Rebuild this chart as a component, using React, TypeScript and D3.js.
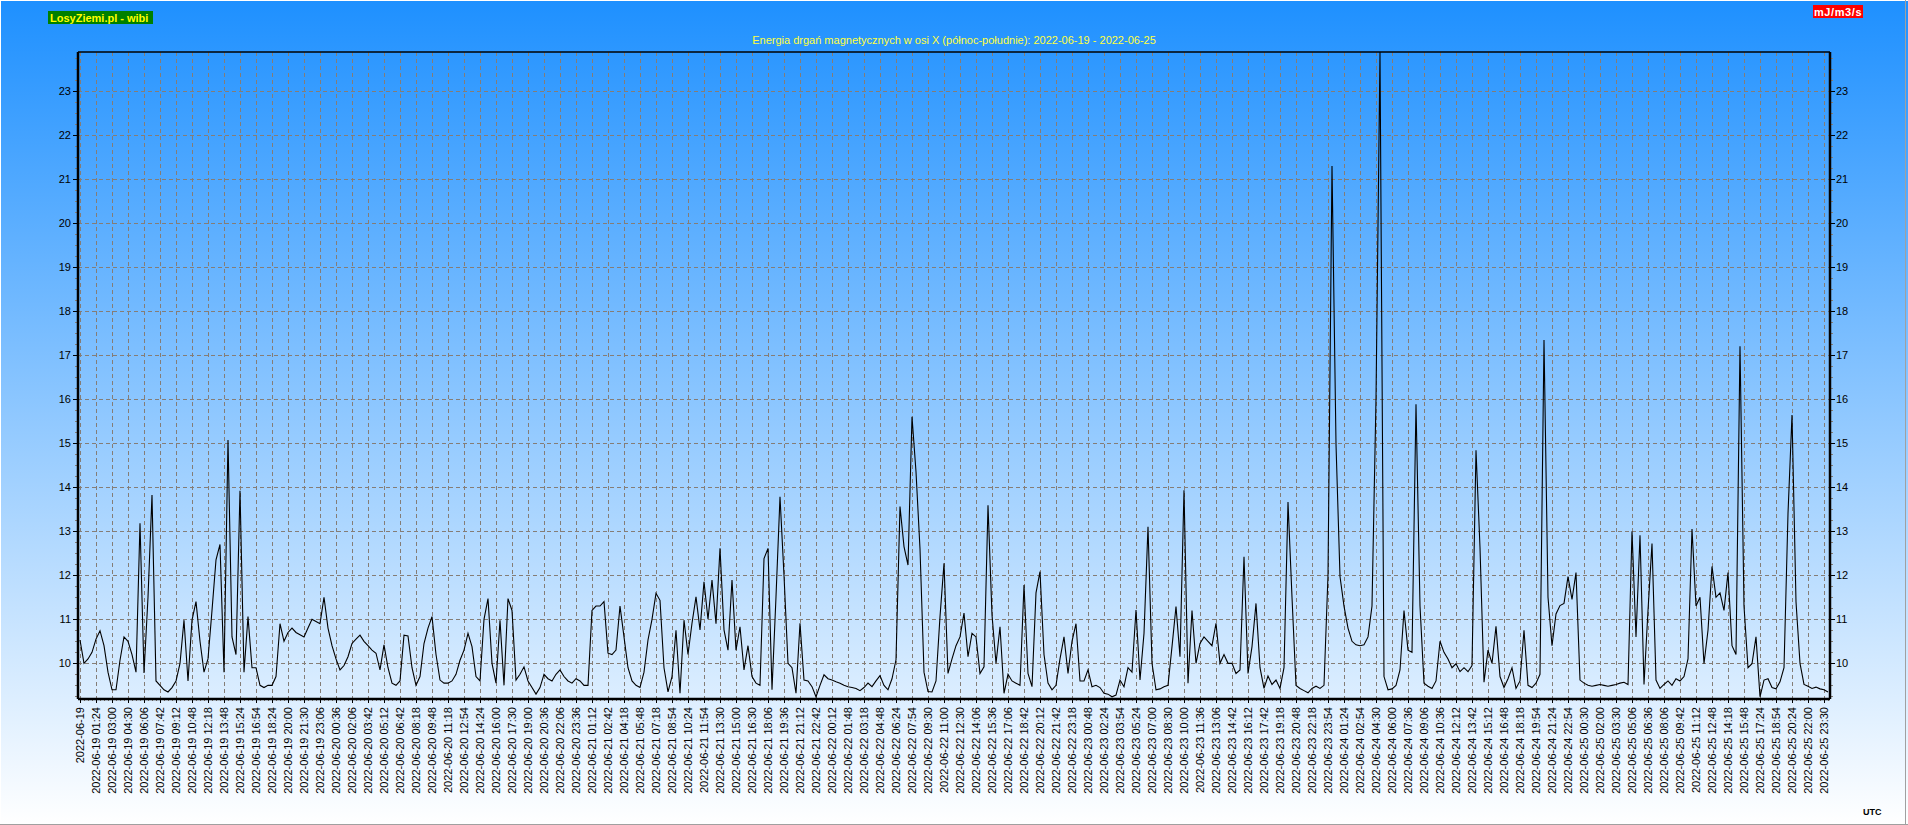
import React from 'react';
import * as d3 from 'd3';

const WIDTH = 1908;
const HEIGHT = 825;

// Energy values (mJ/m3/s), 4 samples per x-axis label slot
const SAMPLES_PER_SLOT = 4;
const seriesJun19 = [
  10.53, 10.0, 10.1, 10.25, 10.55, 10.74, 10.4, 9.8, 9.4, 9.4,
  10.07, 10.6, 10.5, 10.2, 9.8, 13.18, 9.78, 11.5, 13.82, 9.6,
  9.5, 9.4, 9.35, 9.45, 9.6, 10.0, 10.98, 9.6, 10.98, 11.4,
  10.5, 9.8, 10.1, 11.2, 12.35, 12.7, 9.8, 15.07, 10.6, 10.2,
  13.92, 9.8, 11.06, 9.9, 9.9, 9.5, 9.45, 9.5, 9.5, 9.7,
  10.9, 10.5, 10.7, 10.8, 10.7, 10.65, 10.6, 10.8, 11.0, 10.95,
  10.9, 11.5, 10.8, 10.4,
];
const seriesJun20 = [
  10.1, 9.85, 9.95, 10.15, 10.45, 10.55, 10.64, 10.5, 10.4, 10.3,
  10.23, 9.85, 10.42, 9.9, 9.55, 9.5, 9.6, 10.64, 10.62, 9.9,
  9.5, 9.7, 10.45, 10.8, 11.06, 10.2, 9.62, 9.55, 9.55, 9.6,
  9.75, 10.07, 10.3, 10.68, 10.38, 9.7, 9.6, 11.0, 11.47, 10.0,
  9.55, 10.98, 9.5, 11.47, 11.2, 9.62, 9.75, 9.92, 9.6, 9.45,
  9.3, 9.45, 9.75, 9.65, 9.6, 9.75, 9.85, 9.7, 9.6, 9.55,
  9.65, 9.6, 9.5, 9.5,
];
const seriesJun21 = [
  11.2, 11.3, 11.3, 11.4, 10.23, 10.2, 10.3, 11.3, 10.6, 9.9,
  9.6, 9.5, 9.45, 9.8, 10.53, 11.0, 11.59, 11.43, 9.9, 9.35,
  9.7, 10.75, 9.32, 10.98, 10.2, 10.91, 11.51, 10.76, 11.85, 11.0,
  11.89, 10.9, 12.61, 10.76, 10.3, 11.89, 10.3, 10.83, 9.85, 10.4,
  9.7, 9.55, 9.5, 12.38, 12.61, 9.4, 11.51, 13.78, 12.0, 10.0,
  9.9, 9.32, 10.91, 9.62, 9.6, 9.47, 9.24, 9.5, 9.74, 9.65,
];
const seriesJun22 = [
  9.62, 9.58, 9.55, 9.5, 9.47, 9.45, 9.43, 9.38, 9.45, 9.55,
  9.47, 9.6, 9.72, 9.5, 9.4, 9.65, 10.08, 13.56, 12.65, 12.23,
  15.6, 14.35, 12.6, 9.8, 9.36, 9.35, 9.6, 11.06, 12.27, 9.77,
  10.1, 10.4, 10.6, 11.14, 10.15, 10.68, 10.6, 9.77, 9.92, 13.59,
  11.1, 10.0, 10.83, 9.32, 9.75, 9.6, 9.55, 9.5, 11.78, 9.77,
  9.47, 11.6, 12.08, 10.2, 9.55, 9.4, 9.5, 10.1, 10.6, 9.77,
  10.5, 10.9, 9.6, 9.6,
];
const seriesJun23 = [
  9.85, 9.47, 9.5, 9.45, 9.32, 9.3, 9.24, 9.28, 9.62, 9.47,
  9.9, 9.8, 11.21, 9.62, 10.68, 13.1, 10.0, 9.4, 9.42, 9.47,
  9.5, 10.38, 11.29, 10.15, 13.93, 9.55, 11.2, 10.0, 10.45, 10.6,
  10.5, 10.4, 10.91, 10.0, 10.2, 10.0, 10.0, 9.77, 9.85, 12.42,
  9.77, 10.38, 11.36, 9.9, 9.43, 9.71, 9.52, 9.62, 9.43, 9.9,
  13.66, 11.5, 9.5, 9.43, 9.38, 9.33, 9.43, 9.48, 9.43, 9.5,
  12.0, 21.29, 14.98, 11.97,
];
const seriesJun24 = [
  11.3, 10.8, 10.5, 10.42, 10.4, 10.42, 10.6, 11.3, 16.0, 23.88,
  9.7, 9.4, 9.42, 9.5, 9.85, 11.2, 10.3, 10.25, 15.88, 11.3,
  9.55, 9.48, 9.43, 9.6, 10.5, 10.25, 10.1, 9.9, 9.99, 9.81,
  9.9, 9.81, 9.95, 14.84, 12.63, 9.57, 10.3, 10.0, 10.84, 9.7,
  9.45, 9.65, 9.9, 9.43, 9.6, 10.75, 9.5, 9.45, 9.55, 9.75,
  17.34, 11.5, 10.4, 11.12, 11.31, 11.36, 11.97, 11.45, 12.06, 9.62,
];
const seriesJun25 = [
  9.55, 9.5, 9.48, 9.5, 9.52, 9.5, 9.48, 9.5, 9.52, 9.55,
  9.57, 9.52, 13.0, 10.6, 12.91, 9.52, 11.2, 12.72, 9.62, 9.43,
  9.52, 9.6, 9.5, 9.65, 9.6, 9.7, 10.1, 13.05, 11.3, 11.5,
  9.99, 10.75, 12.2, 11.5, 11.6, 11.2, 12.06, 10.4, 10.2, 17.2,
  11.3, 9.9, 9.99, 10.6, 9.24, 9.62, 9.65, 9.45, 9.42, 9.58,
  9.9, 13.4, 15.64, 11.4, 10.0, 9.52, 9.48, 9.43, 9.46, 9.42,
  9.4, 9.35,
];

// X tick labels (date + time), one per slot
const tickDays = ['2022-06-19', '2022-06-20', '2022-06-21', '2022-06-22', '2022-06-23', '2022-06-24', '2022-06-25'];
const tickTimesJun19 = ['', '01:24', '03:00', '04:30', '06:06', '07:42', '09:12', '10:48', '12:18', '13:48', '15:24', '16:54', '18:24', '20:00', '21:30', '23:06'];
const tickTimesJun20 = ['00:36', '02:06', '03:42', '05:12', '06:42', '08:18', '09:48', '11:18', '12:54', '14:24', '16:00', '17:30', '19:00', '20:36', '22:06', '23:36'];
const tickTimesJun21 = ['01:12', '02:42', '04:18', '05:48', '07:18', '08:54', '10:24', '11:54', '13:30', '15:00', '16:30', '18:06', '19:36', '21:12', '22:42'];
const tickTimesJun22 = ['00:12', '01:48', '03:18', '04:48', '06:24', '07:54', '09:30', '11:00', '12:30', '14:06', '15:36', '17:06', '18:42', '20:12', '21:42', '23:18'];
const tickTimesJun23 = ['00:48', '02:24', '03:54', '05:24', '07:00', '08:30', '10:00', '11:36', '13:06', '14:42', '16:12', '17:42', '19:18', '20:48', '22:18', '23:54'];
const tickTimesJun24 = ['01:24', '02:54', '04:30', '06:00', '07:36', '09:06', '10:36', '12:12', '13:42', '15:12', '16:48', '18:18', '19:54', '21:24', '22:54'];
const tickTimesJun25 = ['00:30', '02:00', '03:30', '05:06', '06:36', '08:06', '09:42', '11:12', '12:48', '14:18', '15:48', '17:24', '18:54', '20:24', '22:00', '23:30'];

const yTickValues = [10, 11, 12, 13, 14, 15, 16, 17, 18, 19, 20, 21, 22, 23];
const Y_MIN = 9.19;
const Y_MAX = 23.88;

const TITLE = 'Energia drgań magnetycznych w osi X (północ-południe): 2022-06-19 - 2022-06-25';
const BRAND = 'LosyZiemi.pl - wibi';
const UNIT = 'mJ/m3/s';

const FONT = "'Liberation Sans', Arial, sans-serif";

export default function App() {
  const values = [
    ...seriesJun19, ...seriesJun20, ...seriesJun21, ...seriesJun22,
    ...seriesJun23, ...seriesJun24, ...seriesJun25,
  ];
  const dayTimes = [tickTimesJun19, tickTimesJun20, tickTimesJun21, tickTimesJun22, tickTimesJun23, tickTimesJun24, tickTimesJun25];
  const xLabels: string[] = [];
  dayTimes.forEach((times, di) => {
    times.forEach((t) => xLabels.push(t ? `${tickDays[di]} ${t}` : tickDays[di]));
  });

  const left = 78, right = 1830, top = 52, bottom = 699;
  const nSlots = xLabels.length;
  const x = d3.scaleLinear().domain([-0.125, nSlots - 0.625]).range([left, right]);
  const y = d3.scaleLinear().domain([Y_MIN, Y_MAX]).range([bottom, top]);

  const line = d3.line<number>()
    .x((_, i) => x(i / SAMPLES_PER_SLOT))
    .y((d) => y(d));

  const minorY = d3.range(Math.ceil(Y_MIN * 4), Math.floor(Y_MAX * 4) + 1).map((v) => v / 4);
  const minorX = d3.range(0, nSlots * 4 + 1).map((v) => v / 4).filter((v) => x(v) <= right);

  const gridColor = '#857d76';

  return (
    <svg width={WIDTH} height={HEIGHT} style={{ position: 'absolute', left: 0, top: 0, display: 'block' }}>
      <defs>
        <linearGradient id="bg" x1="0" y1="0" x2="0" y2="1">
          <stop offset="0%" stopColor="#1e90ff" />
          <stop offset="100%" stopColor="#ffffff" />
        </linearGradient>
        <clipPath id="plotClip">
          <rect x={left} y={top} width={right - left} height={bottom - top} />
        </clipPath>
      </defs>
      <rect x={0} y={0} width={WIDTH} height={HEIGHT} fill="url(#bg)" />
      <line x1={0} y1={0.5} x2={WIDTH} y2={0.5} stroke="#ffffff" />
      <line x1={0.5} y1={0} x2={0.5} y2={HEIGHT} stroke="#ffffff" />
      <line x1={1905.5} y1={0} x2={1905.5} y2={HEIGHT} stroke="#a0a0a0" />
      <line x1={0} y1={824.5} x2={WIDTH} y2={824.5} stroke="#a0a0a0" />

      {/* grid */}
      <g stroke={gridColor} strokeWidth={1} strokeDasharray="4,3" shapeRendering="crispEdges">
        {yTickValues.map((v) => (
          <line key={'gy' + v} x1={left} x2={right} y1={Math.round(y(v)) + 0.5} y2={Math.round(y(v)) + 0.5} />
        ))}
        {xLabels.map((_, i) => (
          <line key={'gx' + i} x1={Math.round(x(i)) + 0.5} x2={Math.round(x(i)) + 0.5} y1={top} y2={bottom} />
        ))}
      </g>

      {/* ticks */}
      <g strokeWidth={1} shapeRendering="crispEdges">
        {minorY.map((v) => {
          const major = Math.abs(v - Math.round(v)) < 1e-6;
          const yy = Math.round(y(v)) + 0.5;
          return (
            <g key={'ty' + v}>
              <line x1={left - (major ? 5 : 3)} x2={left} y1={yy} y2={yy} stroke={major ? '#000' : gridColor} />
              <line x1={right} x2={right + (major ? 5 : 3)} y1={yy} y2={yy} stroke={major ? '#000' : gridColor} />
            </g>
          );
        })}
        {minorX.map((v) => {
          const major = Math.abs(v - Math.round(v)) < 1e-6;
          const xx = Math.round(x(v)) + 0.5;
          return <line key={'tx' + v} x1={xx} x2={xx} y1={bottom} y2={bottom + (major ? 4 : 2)} stroke={major ? '#000' : gridColor} />;
        })}
      </g>

      {/* y labels */}
      <g fontFamily={FONT} fontSize={11} fill="#000">
        {yTickValues.map((v) => (
          <text key={'ly' + v} x={71} y={y(v)} textAnchor="end" dominantBaseline="central">{v}</text>
        ))}
        {yTickValues.map((v) => (
          <text key={'ry' + v} x={1836} y={y(v)} textAnchor="start" dominantBaseline="central">{v}</text>
        ))}
      </g>

      {/* x labels */}
      <g fontFamily={FONT} fontSize={11} fill="#000">
        {xLabels.map((lab, i) => (
          <text key={'lx' + i} transform={`translate(${x(i)},707) rotate(-90)`} textAnchor="end" dominantBaseline="central">{lab}</text>
        ))}
      </g>

      {/* data line */}
      <path d={line(values) || ''} fill="none" stroke="#000" strokeWidth={1.1} clipPath="url(#plotClip)" strokeLinejoin="miter" />

      {/* frame */}
      <line x1={left} x2={right} y1={top} y2={top} stroke="#000" strokeWidth={1.5} />
      <line x1={left} x2={left} y1={top} y2={bottom} stroke="#000" strokeWidth={2.5} />
      <line x1={right} x2={right} y1={top} y2={bottom} stroke="#000" strokeWidth={2.5} />
      <line x1={left} x2={right} y1={bottom} y2={bottom} stroke="#000" strokeWidth={2.5} />

      {/* title */}
      <text x={(left + right) / 2} y={44} textAnchor="middle" fontFamily={FONT} fontSize={11} fill="#ffff40">{TITLE}</text>

      {/* brand */}
      <rect x={48} y={11} width={105} height={13} fill="#008000" />
      <text x={50} y={21.5} fontFamily={FONT} fontSize={11} fontWeight="bold" fill="#ffff00">{BRAND}</text>

      {/* unit */}
      <rect x={1813} y={5} width={50} height={13} fill="#ff0000" />
      <text x={1838} y={15.5} textAnchor="middle" fontFamily={FONT} fontSize={11} fontWeight="bold" fill="#ffffff" letterSpacing={0.6}>{UNIT}</text>

      {/* UTC */}
      <text x={1863} y={815} fontFamily={FONT} fontSize={9} fontWeight="bold" fill="#000">UTC</text>
    </svg>
  );
}
